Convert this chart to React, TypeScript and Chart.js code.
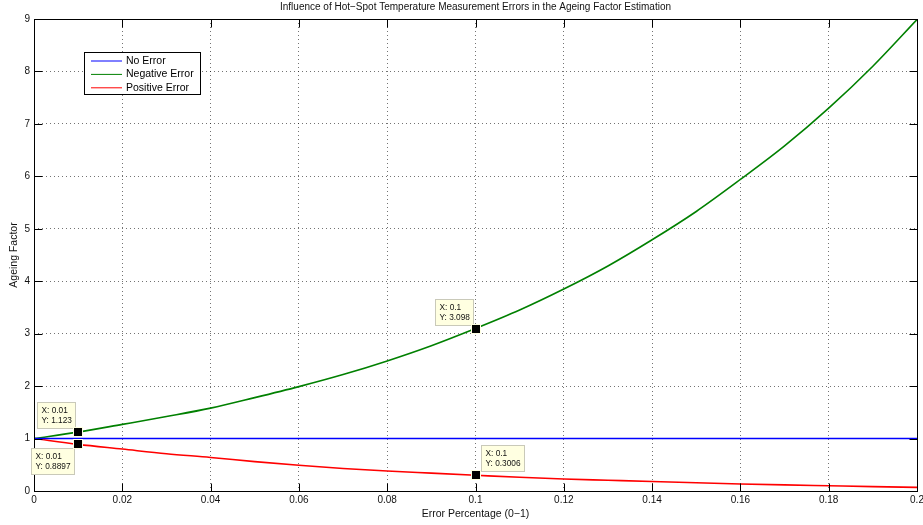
import React, { useEffect, useRef } from "react";
import { Chart, registerables } from "chart.js";

Chart.register(...registerables);

// Error percentage (0–1) sampled every 0.01
const ERROR_PCT = [
  0, 0.01, 0.02, 0.03, 0.04, 0.05, 0.06, 0.07, 0.08, 0.09, 0.1,
  0.11, 0.12, 0.13, 0.14, 0.15, 0.16, 0.17, 0.18, 0.19, 0.2,
];

// Ageing factor for each case
const NO_ERROR = [1, 1, 1, 1, 1, 1, 1, 1, 1, 1, 1, 1, 1, 1, 1, 1, 1, 1, 1, 1, 1];
const NEGATIVE_ERROR = [
  1, 1.123, 1.27, 1.42, 1.58, 1.78, 1.99, 2.22, 2.48, 2.77, 3.098,
  3.45, 3.85, 4.29, 4.79, 5.33, 5.94, 6.58, 7.3, 8.1, 8.99,
];
const POSITIVE_ERROR = [
  1, 0.8897, 0.8, 0.71, 0.64, 0.56, 0.49, 0.43, 0.38, 0.34, 0.3006,
  0.262, 0.23, 0.205, 0.18, 0.156, 0.134, 0.116, 0.1, 0.084, 0.07,
];

const SERIES_NAMES = ["No Error", "Negative Error", "Positive Error"];
const SERIES_COLORS = ["#0000ff", "#008000", "#ff0000"];

// Data cursors: [series index, sample index]
const DATA_TIPS = [
  [1, 1],
  [1, 10],
  [2, 1],
  [2, 10],
];

const TITLE = "Influence of Hot\u2212Spot Temperature Measurement Errors in the Ageing Factor Estimation";
const X_TITLE = "Error Percentage (0\u22121)";
const Y_TITLE = "Ageing Factor";

const FONT = "'Liberation Sans', Arial, Helvetica, sans-serif";

// Placement of each data-tip box relative to its marker
const TIP_PLACEMENT = ["upLeft", "upLeft", "downLeft", "upRight"];

const decorations = {
  id: "decorations",
  afterDraw(chart: any) {
    const { ctx, chartArea: a, scales } = chart;
    const xs = scales.x;
    const ys = scales.y;
    const L = Math.round(a.left) + 0.5;
    const R = Math.round(a.right) + 0.5;
    const T = Math.round(a.top) + 0.5;
    const B = Math.round(a.bottom) + 0.5;
    ctx.save();

    // axes box
    ctx.strokeStyle = "#000";
    ctx.lineWidth = 1;
    ctx.strokeRect(L, T, R - L, B - T);

    // inward tick marks on all four sides
    const TL = 8;
    ctx.beginPath();
    for (const t of xs.ticks) {
      const px = Math.round(xs.getPixelForValue(t.value)) + 0.5;
      ctx.moveTo(px, B);
      ctx.lineTo(px, B - TL);
      ctx.moveTo(px, T);
      ctx.lineTo(px, T + TL);
    }
    for (const t of ys.ticks) {
      const py = Math.round(ys.getPixelForValue(t.value)) + 0.5;
      ctx.moveTo(L, py);
      ctx.lineTo(L + TL, py);
      ctx.moveTo(R, py);
      ctx.lineTo(R - TL, py);
    }
    ctx.stroke();

    // titles
    ctx.fillStyle = "#111";
    ctx.textAlign = "center";
    ctx.textBaseline = "middle";
    ctx.font = `10px ${FONT}`;
    ctx.fillText(TITLE, (a.left + a.right) / 2, 7.5);
    ctx.font = `10.5px ${FONT}`;
    ctx.fillText(X_TITLE, (a.left + a.right) / 2, 514);
    ctx.save();
    ctx.translate(14, (a.top + a.bottom) / 2);
    ctx.rotate(-Math.PI / 2);
    ctx.fillText(Y_TITLE, 0, 0);
    ctx.restore();

    // legend
    const lx = 84.5, ly = 52.5, lw = 116, lh = 42;
    ctx.fillStyle = "#fff";
    ctx.fillRect(lx, ly, lw, lh);
    ctx.strokeStyle = "#000";
    ctx.lineWidth = 1;
    ctx.strokeRect(lx, ly, lw, lh);
    ctx.font = `10.5px ${FONT}`;
    ctx.textAlign = "left";
    SERIES_NAMES.forEach((name, i) => {
      const ry = 61 + i * 13.4;
      ctx.strokeStyle = SERIES_COLORS[i];
      ctx.lineWidth = 1;
      ctx.beginPath();
      ctx.moveTo(91, ry);
      ctx.lineTo(122, ry);
      ctx.stroke();
      ctx.fillStyle = "#000";
      ctx.fillText(name, 126, ry);
    });

    // data tips
    ctx.font = `8.3px ${FONT}`;
    DATA_TIPS.forEach(([si, idx], k) => {
      const xv = ERROR_PCT[idx];
      const yv = (chart.data.datasets[si].data[idx] as any).y;
      const px = xs.getPixelForValue(xv);
      const py = ys.getPixelForValue(yv);
      const lines = [`X: ${xv}`, `Y: ${yv}`];
      const tw = Math.max(...lines.map((s) => ctx.measureText(s).width));
      const bw = Math.round(tw + 8);
      const bh = 26;
      let bx = 0, by = 0;
      const place = TIP_PLACEMENT[k];
      if (place === "upLeft") { bx = px - 3 - bw; by = py - 4 - bh; }
      if (place === "downLeft") { bx = px - 4 - bw; by = py + 4; }
      if (place === "upRight") { bx = px + 5; by = py - 4 - bh; }
      bx = Math.round(bx) + 0.5;
      by = Math.round(by) + 0.5;
      ctx.fillStyle = "#ffffe1";
      ctx.fillRect(bx, by, bw, bh);
      ctx.strokeStyle = "#c9c9b9";
      ctx.lineWidth = 1;
      ctx.strokeRect(bx, by, bw, bh);
      ctx.fillStyle = "#111";
      ctx.textAlign = "left";
      ctx.fillText(lines[0], bx + 4, by + 8.5);
      ctx.fillText(lines[1], bx + 4, by + 18);
      // marker
      ctx.fillStyle = "#ffffe1";
      ctx.fillRect(Math.round(px) - 5, Math.round(py) - 5, 10, 10);
      ctx.fillStyle = "#000";
      ctx.fillRect(Math.round(px) - 4, Math.round(py) - 4, 8, 8);
    });

    ctx.restore();
  },
};

export default function App() {
  const canvasRef = useRef<HTMLCanvasElement | null>(null);

  useEffect(() => {
    document.body.style.margin = "0";
    const canvas = canvasRef.current;
    if (!canvas) return;
    Chart.defaults.font.family = FONT;

    const seriesValues = [NO_ERROR, NEGATIVE_ERROR, POSITIVE_ERROR];
    const chart = new Chart(canvas, {
      type: "line",
      data: {
        datasets: seriesValues.map((vals, i) => ({
          label: SERIES_NAMES[i],
          data: ERROR_PCT.map((x, j) => ({ x, y: vals[j] })),
          borderColor: SERIES_COLORS[i],
          backgroundColor: SERIES_COLORS[i],
          borderWidth: 1.6,
          pointRadius: 0,
          tension: 0.4,
          cubicInterpolationMode: "monotone" as const,
          fill: false,
        })),
      },
      options: {
        responsive: false,
        animation: false,
        events: [],
        layout: { padding: { top: 19, right: 6, left: 0, bottom: 0 } },
        plugins: {
          legend: { display: false },
          tooltip: { enabled: false },
          title: { display: false },
        },
        scales: {
          x: {
            type: "linear",
            min: 0,
            max: 0.2,
            ticks: {
              stepSize: 0.02,
              color: "#111",
              font: { size: 10, family: FONT },
              padding: 3,
              maxRotation: 0,
              autoSkip: false,
              callback: (v: any) => String(Number(Number(v).toFixed(2))),
            },
            grid: {
              color: "rgba(0,0,0,0.55)",
              lineWidth: 1,
              drawTicks: false,
            },
            border: { display: false, dash: [1, 3] },
            afterFit: (s: any) => {
              s.height = 34;
              s.paddingLeft = 0;
              s.paddingRight = 0;
            },
          },
          y: {
            type: "linear",
            min: 0,
            max: 9,
            ticks: {
              stepSize: 1,
              color: "#111",
              font: { size: 10, family: FONT },
              padding: 4,
            },
            grid: {
              color: "rgba(0,0,0,0.55)",
              lineWidth: 1,
              drawTicks: false,
            },
            border: { display: false, dash: [1, 3] },
            afterFit: (s: any) => {
              s.width = 34;
              s.paddingTop = 0;
              s.paddingBottom = 0;
            },
          },
        },
      },
      plugins: [decorations],
    });
    return () => chart.destroy();
  }, []);

  return (
    <div style={{ position: "absolute", left: 0, top: 0, width: 923, height: 525, background: "#fff" }}>
      <canvas ref={canvasRef} width={923} height={525} />
    </div>
  );
}
